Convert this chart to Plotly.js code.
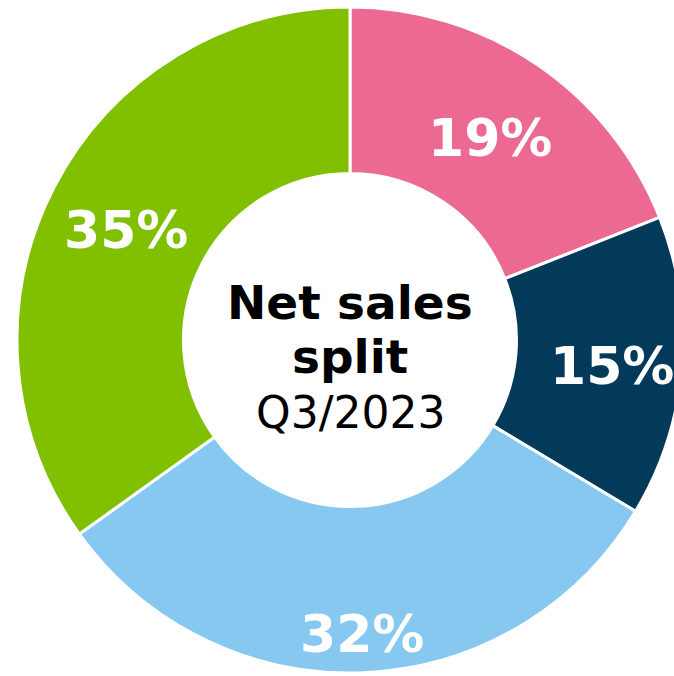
<!DOCTYPE html>
<html>
<head>
<meta charset="utf-8">
<script src="https://cdn.plot.ly/plotly-3.0.1.min.js"></script>
<style>
html,body{margin:0;padding:0;overflow:hidden;background:#fff;width:674px;height:676px;}
#chart{width:700px;height:680px;}
</style>
</head>
<body>
<div id="chart"></div>
<script>
const segments = ["Segment A", "Segment B", "Segment C", "Segment D"];
const shares = [19.0, 14.6, 31.5, 34.9];
const colors = ["#EC6A92", "#033A5A", "#86C8F0", "#80C000"];
const centerTitle = ["Net sales", "split"];
const centerSub = "Q3/2023";

// label placement as a fraction of the outer radius (style only)
const labelRadius = [0.75, 0.79, 0.87, 0.755];

const FONT = "DejaVu Sans, Verdana, sans-serif";
const W = 700, H = 680, L = 17, R = 17, T = 7, B = 7;
const pw = W - L - R, ph = H - T - B;
const outerR = Math.min(pw, ph) / 2;
function pyPaper(p){ return 1 - (p - T) / ph; }
function pxPaper(p){ return (p - L) / pw; }
const cx = L + pw / 2, cy = T + ph / 2;

const total = shares.reduce((a, b) => a + b, 0);
const labelAnn = [];
let cum = 0;
shares.forEach((v, i) => {
  const mid = (cum + v / 2) / total * 2 * Math.PI;
  cum += v;
  const r = labelRadius[i] * outerR;
  const x = cx + r * Math.sin(mid);
  const y = cy - r * Math.cos(mid) + 5;
  labelAnn.push({
    text: "<b>" + Math.round(v / total * 100) + "%</b>",
    x: pxPaper(x), y: pyPaper(y), xref: "paper", yref: "paper",
    showarrow: false, xanchor: "center", yanchor: "middle",
    font: {family: FONT, size: 52, color: "#ffffff"}
  });
});

Plotly.newPlot("chart", [{
  type: "pie",
  labels: segments,
  values: shares,
  hole: 0.5,
  sort: false,
  direction: "clockwise",
  rotation: 0,
  marker: {colors: colors, line: {color: "#ffffff", width: 3}},
  textinfo: "none",
  showlegend: false,
  hoverinfo: "label+percent"
}], {
  width: W, height: H,
  margin: {l: L, r: R, t: T, b: B},
  paper_bgcolor: "#ffffff",
  annotations: labelAnn.concat([
    {text: "<b>" + centerTitle[0] + "</b>", x: 0.5, y: pyPaper(302), xref: "paper", yref: "paper",
     showarrow: false, font: {family: FONT, size: 47, color: "#000"}, xanchor: "center", yanchor: "middle"},
    {text: "<b>" + centerTitle[1] + "</b>", x: 0.5, y: pyPaper(356), xref: "paper", yref: "paper",
     showarrow: false, font: {family: FONT, size: 47, color: "#000"}, xanchor: "center", yanchor: "middle"},
    {text: centerSub, x: 0.5, y: pyPaper(412), xref: "paper", yref: "paper",
     showarrow: false, font: {family: FONT, size: 44, color: "#000"}, xanchor: "center", yanchor: "middle"}
  ])
}, {displayModeBar: false, staticPlot: true});
</script>
</body>
</html>
